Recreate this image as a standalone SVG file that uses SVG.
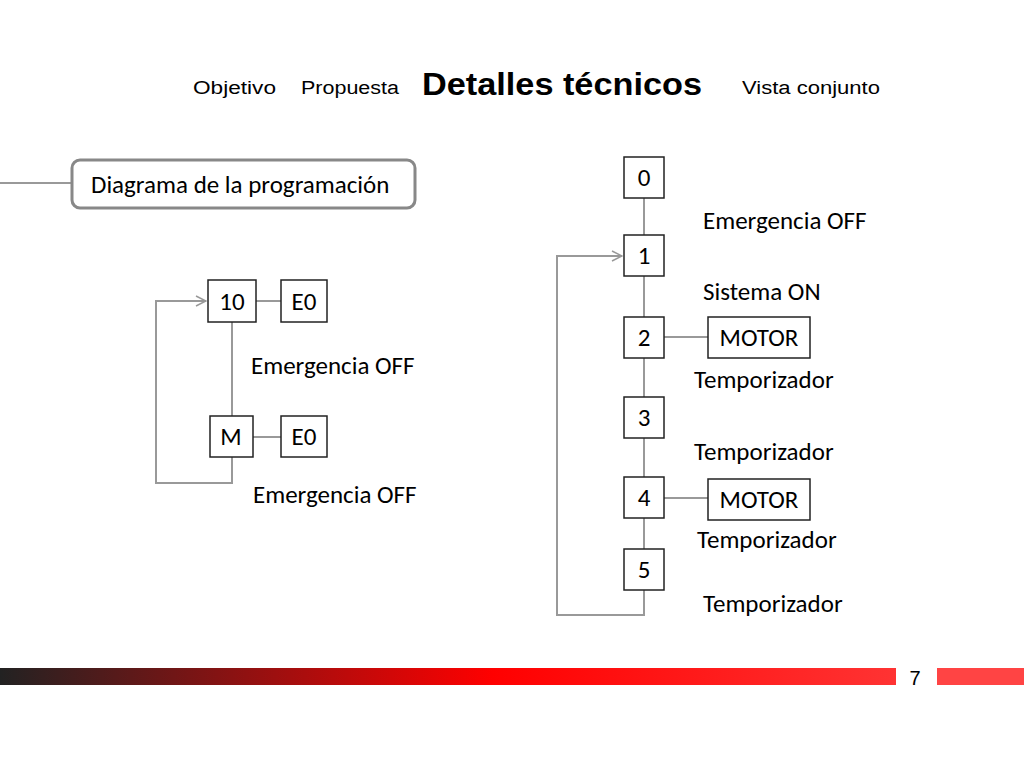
<svg xmlns="http://www.w3.org/2000/svg" width="1024" height="768" viewBox="0 0 1024 768">
<defs>
<style>
.t{font-family:"Liberation Sans",Arial,sans-serif;fill:#000}
.c{font-family:Carlito,Calibri,"Open Sans","Liberation Sans",sans-serif;font-size:25px;fill:#000}
.b{fill:#fff;stroke:#222;stroke-width:1.5}
.l{fill:none;stroke:#999;stroke-width:2}
</style>
<linearGradient id="g" x1="0" x2="1">
<stop offset="0" stop-color="#222"/><stop offset="0.55" stop-color="#f00"/><stop offset="1" stop-color="#f33"/>
</linearGradient>
<marker id="a" markerWidth="12" markerHeight="12" refX="11" refY="6" orient="auto" markerUnits="userSpaceOnUse"><path d="M1,1 L11,6 L1,11" fill="none" stroke="#999" stroke-width="1.5"/></marker>
</defs>
<rect width="1024" height="768" fill="#fff"/>
<text class="t" x="193" y="94" font-size="18" textLength="83" lengthAdjust="spacingAndGlyphs">Objetivo</text>
<text class="t" x="301" y="94" font-size="18" textLength="98" lengthAdjust="spacingAndGlyphs">Propuesta</text>
<text class="t" x="422" y="95" font-size="32" font-weight="bold" textLength="280" lengthAdjust="spacingAndGlyphs">Detalles técnicos</text>
<text class="t" x="742" y="94" font-size="18" textLength="138" lengthAdjust="spacingAndGlyphs">Vista conjunto</text>
<g id="connectors">
<line class="l" x1="0" y1="183" x2="72" y2="183" stroke-width="3"/>
<line class="l" x1="256" y1="301" x2="281" y2="301"/>
<line class="l" x1="232" y1="322" x2="232" y2="416"/>
<line class="l" x1="253" y1="437" x2="281" y2="437"/>
<path class="l" d="M232,457 V483 H156 V301 H206" marker-end="url(#a)"/>
<line class="l" x1="644" y1="198" x2="644" y2="549"/>
<line class="l" x1="664" y1="337" x2="708" y2="337"/>
<line class="l" x1="664" y1="498" x2="708" y2="498"/>
<path class="l" d="M644,590 V615 H557 V256 H622" marker-end="url(#a)"/>
</g>
<g id="title"><rect x="72" y="160" width="343" height="48" rx="8" fill="#fff" stroke="#888" stroke-width="3"/><text class="c" x="91" y="193">Diagrama de la programación</text></g>
<g id="n10"><rect class="b" x="208" y="280" width="48" height="42"/><text class="c" x="232" y="310" text-anchor="middle">10</text></g>
<g id="e0a"><rect class="b" x="281" y="280" width="46" height="42"/><text class="c" x="304" y="310" text-anchor="middle">E0</text></g>
<g id="nM"><rect class="b" x="210" y="416" width="43" height="41"/><text class="c" x="231" y="445" text-anchor="middle">M</text></g>
<g id="e0b"><rect class="b" x="281" y="416" width="46" height="41"/><text class="c" x="304" y="445" text-anchor="middle">E0</text></g>
<text class="c" x="251" y="374">Emergencia OFF</text>
<text class="c" x="253" y="503">Emergencia OFF</text>
<g id="s0"><rect class="b" x="624" y="157" width="40" height="41"/><text class="c" x="644" y="186" text-anchor="middle">0</text></g>
<g id="s1"><rect class="b" x="624" y="235" width="40" height="41"/><text class="c" x="644" y="264" text-anchor="middle">1</text></g>
<g id="s2"><rect class="b" x="624" y="317" width="40" height="41"/><text class="c" x="644" y="346" text-anchor="middle">2</text></g>
<g id="s3"><rect class="b" x="624" y="397" width="40" height="41"/><text class="c" x="644" y="426" text-anchor="middle">3</text></g>
<g id="s4"><rect class="b" x="624" y="477" width="40" height="41"/><text class="c" x="644" y="506" text-anchor="middle">4</text></g>
<g id="s5"><rect class="b" x="624" y="549" width="40" height="41"/><text class="c" x="644" y="578" text-anchor="middle">5</text></g>
<g id="m1"><rect class="b" x="708" y="317" width="102" height="41"/><text class="c" x="759" y="346" text-anchor="middle">MOTOR</text></g>
<g id="m2"><rect class="b" x="708" y="479" width="102" height="41"/><text class="c" x="759" y="508" text-anchor="middle">MOTOR</text></g>
<text class="c" x="703" y="229">Emergencia OFF</text>
<text class="c" x="703" y="300">Sistema ON</text>
<text class="c" x="694" y="388">Temporizador</text>
<text class="c" x="694" y="460">Temporizador</text>
<text class="c" x="697" y="548">Temporizador</text>
<text class="c" x="703" y="612">Temporizador</text>
<rect x="0" y="668" width="896" height="17" fill="url(#g)"/>
<rect x="937" y="668" width="87" height="17" fill="#f44"/>
<text class="t" x="915" y="685" font-size="20" text-anchor="middle">7</text>
</svg>
